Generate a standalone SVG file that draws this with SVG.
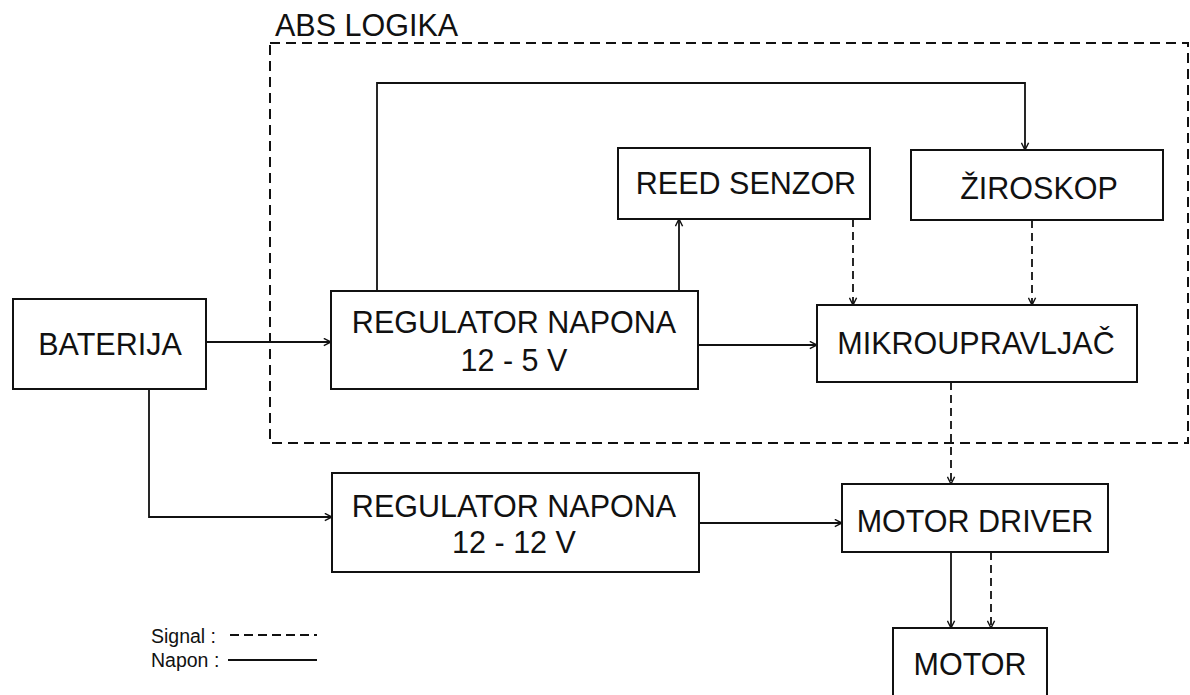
<svg xmlns="http://www.w3.org/2000/svg" width="1190" height="695" viewBox="0 0 1190 695">
<defs>
<marker id="arr" viewBox="0 0 10 10" refX="9" refY="5" markerWidth="9" markerHeight="9" markerUnits="userSpaceOnUse" orient="auto">
<path d="M1,1 L9,5 L1,9" fill="none" stroke="#111" stroke-width="1.6"/>
</marker>
<style>
.box{fill:#fff;stroke:#111;stroke-width:2}
.t{font-family:"Liberation Sans",Arial,sans-serif;font-size:30.5px;fill:#111;text-anchor:middle}
.lg{font-family:"Liberation Sans",Arial,sans-serif;font-size:19.5px;fill:#111}
.pw{fill:none;stroke:#111;stroke-width:1.8}
.sg{fill:none;stroke:#111;stroke-width:1.8;stroke-dasharray:8 5}
.frame{fill:none;stroke:#111;stroke-width:2;stroke-dasharray:10 6}
</style>
</defs>
<rect width="1190" height="695" fill="#fff"/>
<g id="abs-logika">
<rect class="frame" x="270" y="43" width="918" height="400"/>
<text class="t" x="275" y="36" style="text-anchor:start">ABS LOGIKA</text>
</g>
<g id="connectors">
<path class="pw" d="M206,342 H331" marker-end="url(#arr)"/>
<path class="pw" d="M149,389 V517 H332" marker-end="url(#arr)"/>
<path class="pw" d="M698,345 H817" marker-end="url(#arr)"/>
<path class="pw" d="M699,523 H842" marker-end="url(#arr)"/>
<path class="pw" d="M679,291 V219" marker-end="url(#arr)"/>
<path class="pw" d="M377,291 V83 H1025 V150" marker-end="url(#arr)"/>
<path class="sg" d="M853,219 V305" marker-end="url(#arr)"/>
<path class="sg" d="M1032,220 V305" marker-end="url(#arr)"/>
<path class="sg" d="M951,382 V484" marker-end="url(#arr)"/>
<path class="pw" d="M951,552 V628" marker-end="url(#arr)"/>
<path class="sg" d="M991,552 V628" marker-end="url(#arr)"/>
</g>
<g id="baterija">
<rect class="box" x="13" y="299" width="193" height="90"/>
<text class="t" x="110" y="355">BATERIJA</text>
</g>
<g id="regulator-5v">
<rect class="box" x="331" y="291" width="367" height="98"/>
<text class="t" x="514" y="333">REGULATOR NAPONA</text>
<text class="t" x="514" y="371">12 - 5 V</text>
</g>
<g id="reed-senzor">
<rect class="box" x="618" y="148" width="252" height="71"/>
<text class="t" x="746" y="194">REED SENZOR</text>
</g>
<g id="ziroskop">
<rect class="box" x="911" y="150" width="252" height="70"/>
<text class="t" x="1039" y="199">ŽIROSKOP</text>
</g>
<g id="mikroupravljac">
<rect class="box" x="817" y="305" width="320" height="77"/>
<text class="t" x="976" y="354">MIKROUPRAVLJAČ</text>
</g>
<g id="regulator-12v">
<rect class="box" x="332" y="473" width="367" height="99"/>
<text class="t" x="514" y="517">REGULATOR NAPONA</text>
<text class="t" x="514" y="553">12 - 12 V</text>
</g>
<g id="motor-driver">
<rect class="box" x="842" y="484" width="266" height="68"/>
<text class="t" x="975" y="532">MOTOR DRIVER</text>
</g>
<g id="motor">
<rect class="box" x="893" y="628" width="154" height="80"/>
<text class="t" x="970" y="675">MOTOR</text>
</g>
<g id="legend">
<text class="lg" x="151" y="643">Signal :</text>
<path d="M230,635 H317" fill="none" stroke="#111" stroke-width="1.8" stroke-dasharray="9 5"/>
<text class="lg" x="151" y="667">Napon :</text>
<path d="M228,660 H317" fill="none" stroke="#111" stroke-width="1.8"/>
</g>
</svg>
